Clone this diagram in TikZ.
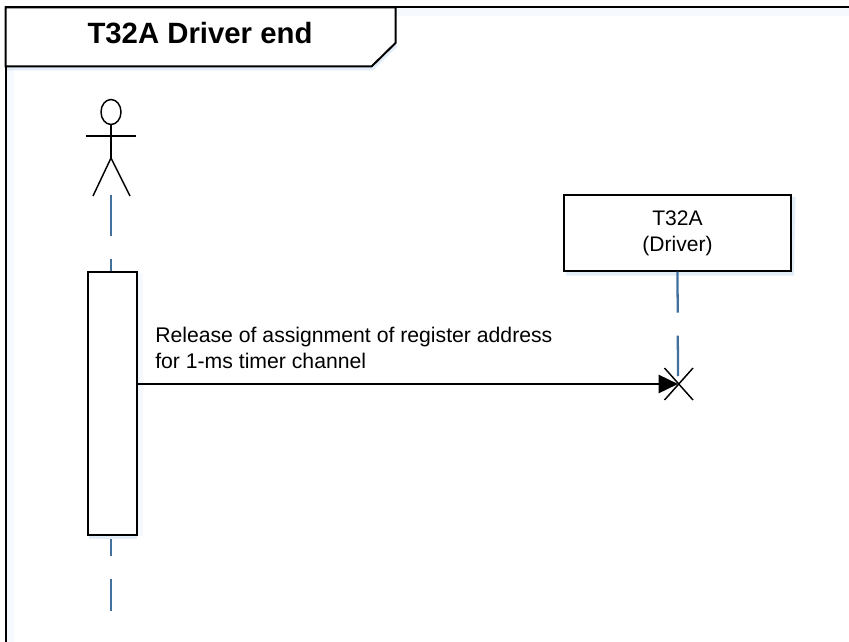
\documentclass[tikz,border=0pt]{standalone}
\usepackage{fontspec}
\setmainfont{Liberation Sans}
\usetikzlibrary{arrows.meta}
\definecolor{lifeblue}{HTML}{41719C}
\definecolor{softshadow}{HTML}{E3EDF8}
\definecolor{fainthalo}{HTML}{F6F9FD}
\tikzset{
  x=0.75pt,y=-0.75pt,
  ink/.style={draw=black,line width=1.5pt},
  thinink/.style={draw=black,line width=1.1pt},
  lifeline/.style={draw=lifeblue,line width=1.7pt,dash pattern=on 30.75pt off 17.25pt},
  halo/.style={draw=softshadow,line width=3pt},
  faint/.style={draw=fainthalo,line width=6pt},
  msgarrow/.style={draw=black,line width=1.9pt,-{Triangle[length=14.5pt,width=13.5pt]}},
  plain/.style={inner sep=0pt,align=left,anchor=base west,font=\fontsize{15.9pt}{19pt}\selectfont}
}
\begin{document}
\begin{tikzpicture}
\useasboundingbox (0,0) rectangle (849,642);
\fill[white] (0,0) rectangle (849,642);
% frame
\coordinate (frameBL) at (5.5,642);
\coordinate (frameTL) at (5.5,7.5);
\coordinate (frameTR) at (849,7.5);
\draw[faint] (396,12) -- (849,12);
\draw[faint] (10,70) -- (10,642);
\draw[ink] (frameBL) -- (frameTL) -- (frameTR);
% title tab
\draw[halo] (7,68.5) -- (372,68.5) -- (396,45);
\draw[ink,fill=white] (5.5,7.5) -- (395.5,7.5) -- (395.5,43) -- (371.5,66.5) -- (5.5,66.5) -- cycle;
\node[font=\bfseries\fontsize{22pt}{26pt}\selectfont,inner sep=0pt,anchor=base] (title) at (200,43.5) {T32A Driver end};
% lifelines
\coordinate (actorFoot) at (111,195);
\coordinate (actorEnd) at (111,611);
\coordinate (dEnd) at (678,376);
\draw[lifeline] (actorFoot) -- (actorEnd);
% actor
\draw[thinink] (111,112) ellipse (10 and 12.5);
\draw[thinink] (111,124.5) -- (111,158);
\draw[thinink] (86,136) -- (136,136);
\draw[thinink] (93,196) -- (111,158) -- (130,196);
% activation bar
\draw[halo] (89,536.5) -- (137,536.5);
\draw[faint] (139,273) -- (139,536);
\node[draw=black,line width=1.5pt,fill=white,inner sep=0pt,anchor=north west,
      minimum width=36.5pt,minimum height=197.5pt] (bar) at (87,270.5) {};
% driver box
\draw[halo] (566,273.5) -- (792,273.5) -- (793.5,197);
\node[draw=black,line width=1.5pt,fill=white,inner sep=0pt,minimum width=170pt,minimum height=56.5pt,
      align=center,font=\fontsize{15.8pt}{19.5pt}\selectfont] (driver) at (677.5,233) {T32A\\(Driver)};
\draw[lifeline] (driver.south) -- (dEnd);
% message
\coordinate (cross) at (678,384);
\draw[msgarrow] (bar.east |- cross) -- (cross);
\draw[thinink] (664.5,368) -- (693,400);
\draw[thinink] (693,368) -- (664.5,400);
\node[plain] (msg1) at (155,342.5) {Release of assignment of register address};
\node[plain] (msg2) at (155,368) {for 1-ms timer channel};
\end{tikzpicture}
\end{document}
